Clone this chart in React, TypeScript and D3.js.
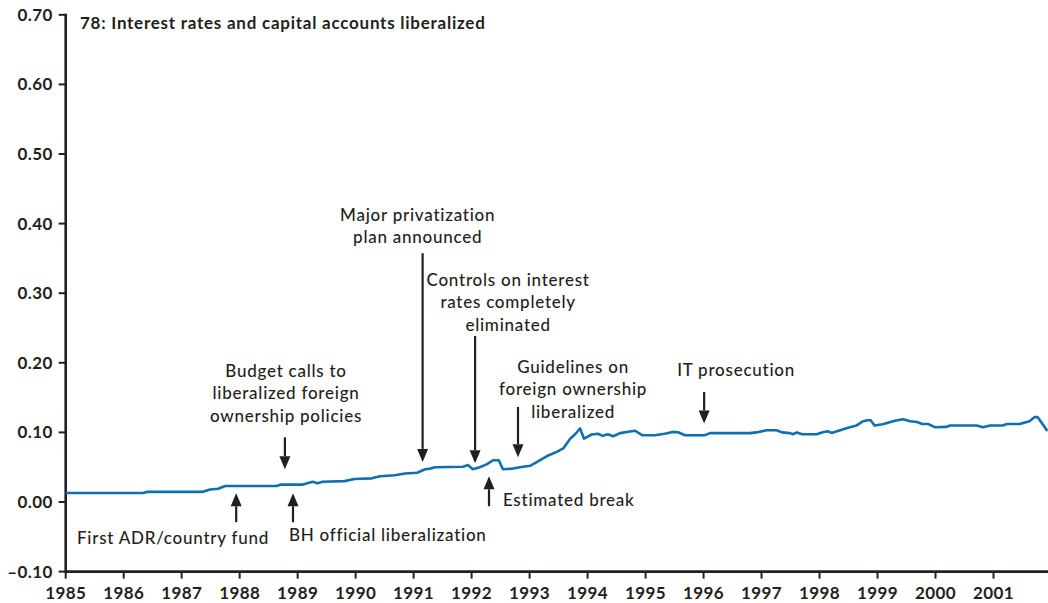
import React from "react";
import * as d3 from "d3";

const years = [
  1985.0, 1986.33, 1986.4, 1987.35, 1987.49, 1987.63, 1987.75, 1988.64, 1988.71, 1989.09,
  1989.26, 1989.34, 1989.43, 1989.81, 1989.98, 1990.28, 1990.42, 1990.68, 1990.85, 1991.06,
  1991.2, 1991.29, 1991.37, 1991.85, 1991.94, 1992.02, 1992.14, 1992.26, 1992.37, 1992.47,
  1992.54, 1992.71, 1992.83, 1993.01, 1993.13, 1993.3, 1993.47, 1993.58, 1993.7, 1993.78,
  1993.87, 1993.94, 1994.07, 1994.18, 1994.26, 1994.35, 1994.44, 1994.56, 1994.7, 1994.82,
  1994.94, 1995.16, 1995.33, 1995.47, 1995.56, 1995.68, 1996.02, 1996.11, 1996.8, 1996.91,
  1997.09, 1997.26, 1997.35, 1997.49, 1997.54, 1997.61, 1997.7, 1997.95, 1998.04, 1998.14,
  1998.21, 1998.3, 1998.52, 1998.64, 1998.75, 1998.83, 1998.88, 1998.95, 1999.09, 1999.3,
  1999.44, 1999.56, 1999.68, 1999.77, 1999.87, 1999.99, 2000.19, 2000.25, 2000.71, 2000.82,
  2000.94, 2001.16, 2001.23, 2001.45, 2001.62, 2001.71, 2001.76, 2001.93,
];

const values = [
  0.013, 0.013, 0.0145, 0.0145, 0.018, 0.019, 0.023, 0.023, 0.025, 0.025,
  0.029, 0.027, 0.029, 0.03, 0.033, 0.034, 0.037, 0.0385, 0.041, 0.042,
  0.047, 0.048, 0.05, 0.0507, 0.053, 0.047, 0.05, 0.054, 0.06, 0.06,
  0.047, 0.048, 0.05, 0.052, 0.0576, 0.066, 0.072, 0.077, 0.091, 0.097,
  0.1056, 0.091, 0.097, 0.098, 0.095, 0.0974, 0.0945, 0.099, 0.101, 0.1024,
  0.096, 0.096, 0.098, 0.1007, 0.1003, 0.096, 0.096, 0.099, 0.099, 0.1,
  0.103, 0.103, 0.1, 0.099, 0.0974, 0.1, 0.0974, 0.0974, 0.1, 0.1017,
  0.0993, 0.1017, 0.1075, 0.11, 0.116, 0.1175, 0.1175, 0.11, 0.1118, 0.1168,
  0.119, 0.116, 0.115, 0.112, 0.112, 0.1075, 0.108, 0.11, 0.11, 0.1075,
  0.11, 0.11, 0.112, 0.112, 0.116, 0.122, 0.122, 0.102,
];

const yTicks = [-0.1, 0.0, 0.1, 0.2, 0.3, 0.4, 0.5, 0.6, 0.7];
const xTicks = [1985, 1986, 1987, 1988, 1989, 1990, 1991, 1992, 1993, 1994, 1995, 1996, 1997, 1998, 1999, 2000, 2001];

const title = "78: Interest rates and capital accounts liberalized";

// annotation: arrow at year, from tail value to tip value; text anchored at (textYear, textValue)
const annYears = [1987.94, 1988.92, 1988.78, 1991.155, 1992.06, 1992.8, 1992.3, 1996.01];
const annTails = [-0.029, -0.029, 0.093, 0.3575, 0.2386, 0.1366, -0.006, 0.158];
const annTips = [0.0126, 0.0126, 0.047, 0.0576, 0.0557, 0.0644, 0.037, 0.1128];
const annTextYears = [1985.195, 1988.85, 1988.8, 1991.07, 1992.63, 1993.75, 1992.54, 1995.545];
const annTextValues = [-0.061, -0.056, 0.1797, 0.404, 0.311, 0.1855, -0.0056, 0.1807];
const annAnchors = ["start", "start", "middle", "middle", "middle", "middle", "start", "start"];
const annTexts = [
  ["First ADR/country fund"],
  ["BH official liberalization"],
  ["Budget calls to", "liberalized foreign", "ownership policies"],
  ["Major privatization", "plan announced"],
  ["Controls on interest", "rates completely", "eliminated"],
  ["Guidelines on", "foreign ownership", "liberalized"],
  ["Estimated break"],
  ["IT prosecution"],
];

const W = 1048;
const H = 603;
const INK = "#231f20";
const BLUE = "#0f6fb0";
const FONT = "Lato, 'Open Sans', sans-serif";
const LS = 0.75;

export default function App() {
  const x = d3.scaleLinear().domain([1985, 2001.94]).range([65.7, 1048]);
  const y = d3.scaleLinear().domain([-0.1, 0.7]).range([571.6, 14.8]);
  const pts = years.map((t, i) => [t, values[i]] as [number, number]);
  const line = d3
    .line<[number, number]>()
    .x((d) => x(d[0]))
    .y((d) => y(d[1]))
    .curve(d3.curveLinear);

  const x0 = x(1985);
  const yBottom = y(-0.1);

  return (
    <svg
      width={W}
      height={H}
      style={{ position: "absolute", left: 0, top: 0, display: "block", background: "#fff" }}
      fontFamily={FONT}
    >
      {/* axes */}
      <line x1={x0} x2={x0} y1={y(0.7) - 1} y2={yBottom + 1} stroke={INK} strokeWidth={2.6} />
      <line x1={x0 - 1} x2={W} y1={yBottom} y2={yBottom} stroke={INK} strokeWidth={2.6} />
      {yTicks.map((t) => (
        <g key={"y" + t}>
          <line x1={x0 - 7} x2={x0} y1={y(t)} y2={y(t)} stroke={INK} strokeWidth={2} />
          <text
            x={x0 - 13}
            y={y(t)}
            dy="0.35em"
            textAnchor="end"
            fontSize={17}
            fontWeight={700}
            fill={INK}
            letterSpacing={0.4}
          >
            {t < 0 ? "\u2013" + Math.abs(t).toFixed(2) : t.toFixed(2)}
          </text>
        </g>
      ))}
      {xTicks.map((t) => (
        <g key={"x" + t}>
          <line x1={x(t)} x2={x(t)} y1={yBottom} y2={yBottom + 7} stroke={INK} strokeWidth={2} />
          <text
            x={x(t)}
            y={599}
            textAnchor="middle"
            fontSize={17}
            fontWeight={700}
            fill={INK}
            letterSpacing={0.4}
          >
            {t}
          </text>
        </g>
      ))}

      {/* title */}
      <text x={80} y={29} fontSize={17} fontWeight={700} fill={INK} letterSpacing={LS}>
        {title}
      </text>

      {/* series */}
      <path d={line(pts) || ""} fill="none" stroke={BLUE} strokeWidth={2.6} strokeLinejoin="round" />

      {/* annotations */}
      {annYears.map((ay, i) => {
        const ax = x(ay);
        const yt = y(annTails[i]);
        const yp = y(annTips[i]);
        const dir = yp > yt ? 1 : -1;
        const headLen = 13;
        const headHalf = 5.5;
        const baseY = yp - dir * headLen;
        return (
          <g key={"a" + i}>
            <line x1={ax} x2={ax} y1={yt} y2={baseY} stroke={INK} strokeWidth={2.2} />
            <path
              d={`M${ax - headHalf},${baseY} L${ax + headHalf},${baseY} L${ax},${yp} Z`}
              fill={INK}
            />
            {annTexts[i].map((s, j) => (
              <text
                key={j}
                x={x(annTextYears[i])}
                y={y(annTextValues[i]) + j * 22.5}
                textAnchor={annAnchors[i] as any}
                fontSize={17}
                fontWeight={500}
                fill={INK}
                letterSpacing={LS}
              >
                {s}
              </text>
            ))}
          </g>
        );
      })}
    </svg>
  );
}
